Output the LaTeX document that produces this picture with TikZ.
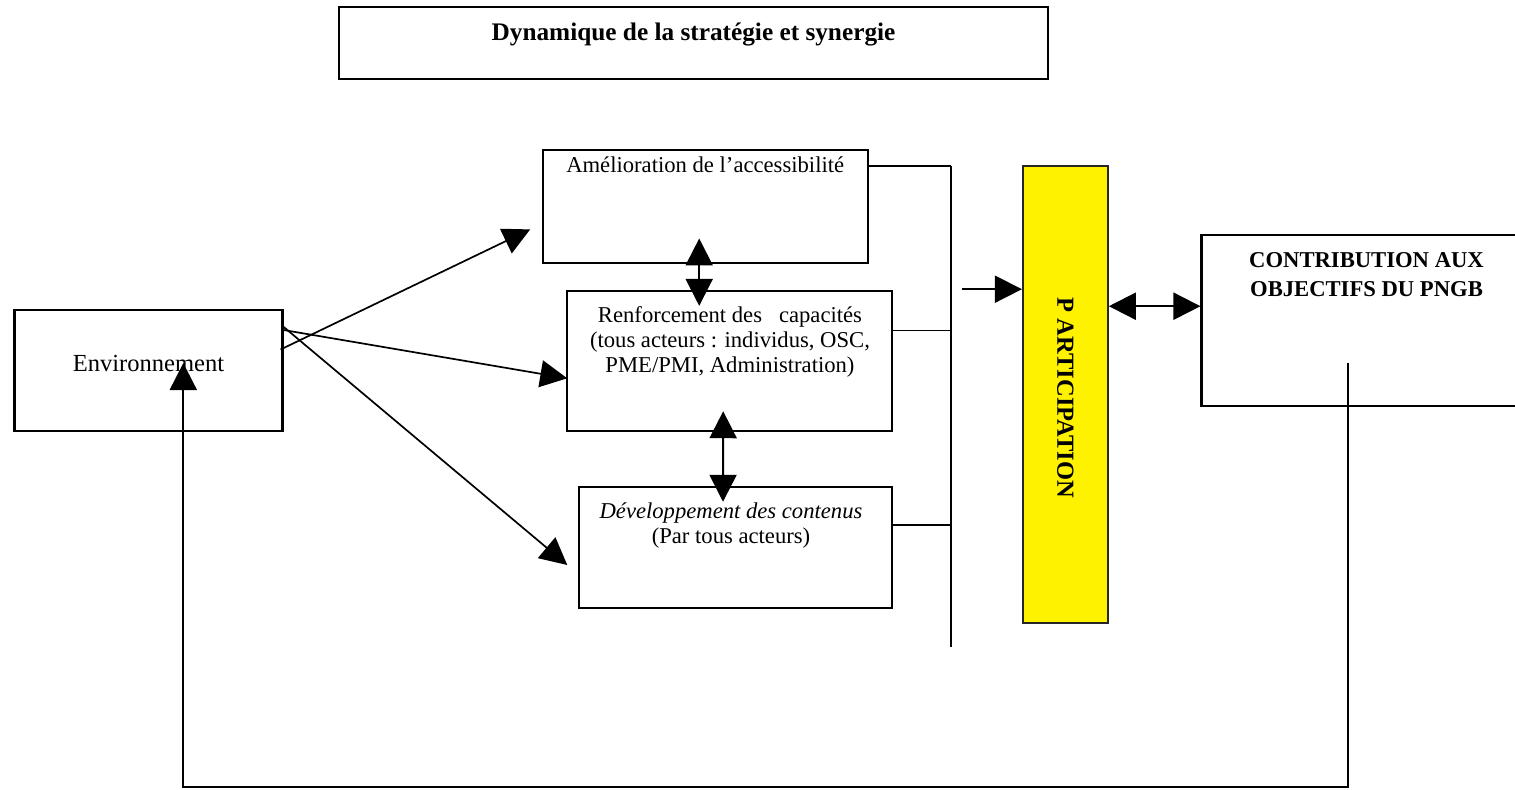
\documentclass[tikz,border=0pt]{standalone}
\usepackage{fontspec}
\setmainfont{Liberation Serif}
\usetikzlibrary{arrows.meta,calc,positioning}
\begin{document}
\begin{tikzpicture}[x=0.53pt,y=-0.53pt,
boxnode/.style={rectangle, draw=black, line width=1.1pt, inner sep=0pt},
yellownode/.style={rectangle, draw=black!85, fill=yellow, line width=1pt, inner sep=0pt},
textnode/.style={inner sep=0pt, align=center, font=\fontsize{12}{13.25}\selectfont},
arrowline/.style={line width=0.9pt, -{Triangle[length=14.3pt,width=14.3pt]}},
dblarrow/.style={line width=1.1pt, {Triangle[length=14.3pt,width=14.3pt]}-{Triangle[length=14.3pt,width=14.3pt]}},
backline/.style={line width=1.1pt, -{Triangle[length=14.3pt,width=14.3pt]}},
busline/.style={line width=0.8pt},
]
\useasboundingbox (0,0) rectangle (1515,789);
\clip (0,0) rectangle (1515,789);

%Boxes
\node[boxnode, minimum width=709*0.53pt, minimum height=72*0.53pt]  (titlebox) at (693.5,43) {};
\node[boxnode, minimum width=268*0.53pt, minimum height=121*0.53pt] (env)      at (148.5,370.5) {};
\node[boxnode, minimum width=325*0.53pt, minimum height=113*0.53pt] (amel)     at (705.2,206.4) {};
\node[boxnode, minimum width=325*0.53pt, minimum height=140*0.53pt] (renf)     at (729.2,360.9) {};
\node[boxnode, minimum width=313*0.53pt, minimum height=121*0.53pt] (dev)      at (735.2,547.3) {};
\node[yellownode, minimum width=85*0.53pt, minimum height=457*0.53pt] (part)   at (1065.4,394.2) {};
\node[boxnode, minimum width=330*0.53pt, minimum height=171*0.53pt] (contrib)  at (1366.5,320.1) {};

%Texts
\node[textnode, font=\bfseries\fontsize{13.4}{16}\selectfont, anchor=base] (titletext) at (693.5,40) {Dynamique de la stratégie et synergie};
\node[textnode, font=\fontsize{13}{15}\selectfont, anchor=base] (envtext) at (148.5,371.5) {Environnement};
\node[textnode, anchor=base] (ameltext) at (705.2,172.5) {Amélioration de l’accessibilité};
\node[textnode] (renftext) at (730,341.5) {Renforcement des\ \ \ capacités\\(tous acteurs : individus, OSC,\\PME/PMI, Administration)};
\node[textnode] (devtext) at (731,525.3) {\textit{Développement des contenus}\\(Par tous acteurs)};
\node[textnode, font=\bfseries\fontsize{13}{15}\selectfont, rotate=-90] (parttext) at (1065.4,398) {P ARTICIPATION};
\node[textnode, font=\bfseries\fontsize{12}{15.2}\selectfont] (contribtext) at (1366.5,274.7) {CONTRIBUTION AUX\\OBJECTIFS DU PNGB};

%Bus
\coordinate (busTop) at (951,166);
\coordinate (busBot) at (951,647);
\coordinate (renfOut) at ($(renf.east)+(0,-30.2)$);
\coordinate (devOut) at ($(dev.east)+(0,-22.3)$);
\draw[busline] (busTop) -- (busBot);
\draw[busline] (busTop -| amel.east) -- (busTop);
\draw[busline] (renfOut) -- (renfOut -| busTop);
\draw[busline] (devOut) -- (devOut -| busTop);

%Lines
\draw[arrowline] ($(env.east)+(-3,-21)$) -- ($(amel.west)+(-11.5,23)$);
\draw[arrowline] ($(env.east)+(0,-40.5)$) -- ($(renf.west)+(1.6,17.4)$);
\draw[arrowline] ($(env.east)+(-1,-44.5)$) -- ($(dev.west)+(-10.4,17.7)$);
\draw[dblarrow] ($(amel.south)+(-6,-25.5)$) -- ($(renf.north)+(-30,16)$);
\draw[dblarrow] ($(renf.south)+(-6,-20.7)$) -- ($(dev.north)+(-12.2,16)$);

\coordinate (partIn) at ($(part.west)+(0,-105)$);
\coordinate (busOut) at ($(partIn)+(-60,0)$);
\draw[arrowline] (busOut) -- (partIn);
\coordinate (partOut) at ($(part.east)+(0,-88)$);
\draw[dblarrow] (partOut) -- (partOut -| contrib.west);

%Feedback
\coordinate (fbStart) at ($(contrib.south)+(-18.8,-44)$);
\coordinate (envIn) at ($(env.south)+(34.8,-69)$);
\draw[backline] (fbStart) -- (fbStart |- 0,787) -| (envIn);
\end{tikzpicture}
\end{document}
